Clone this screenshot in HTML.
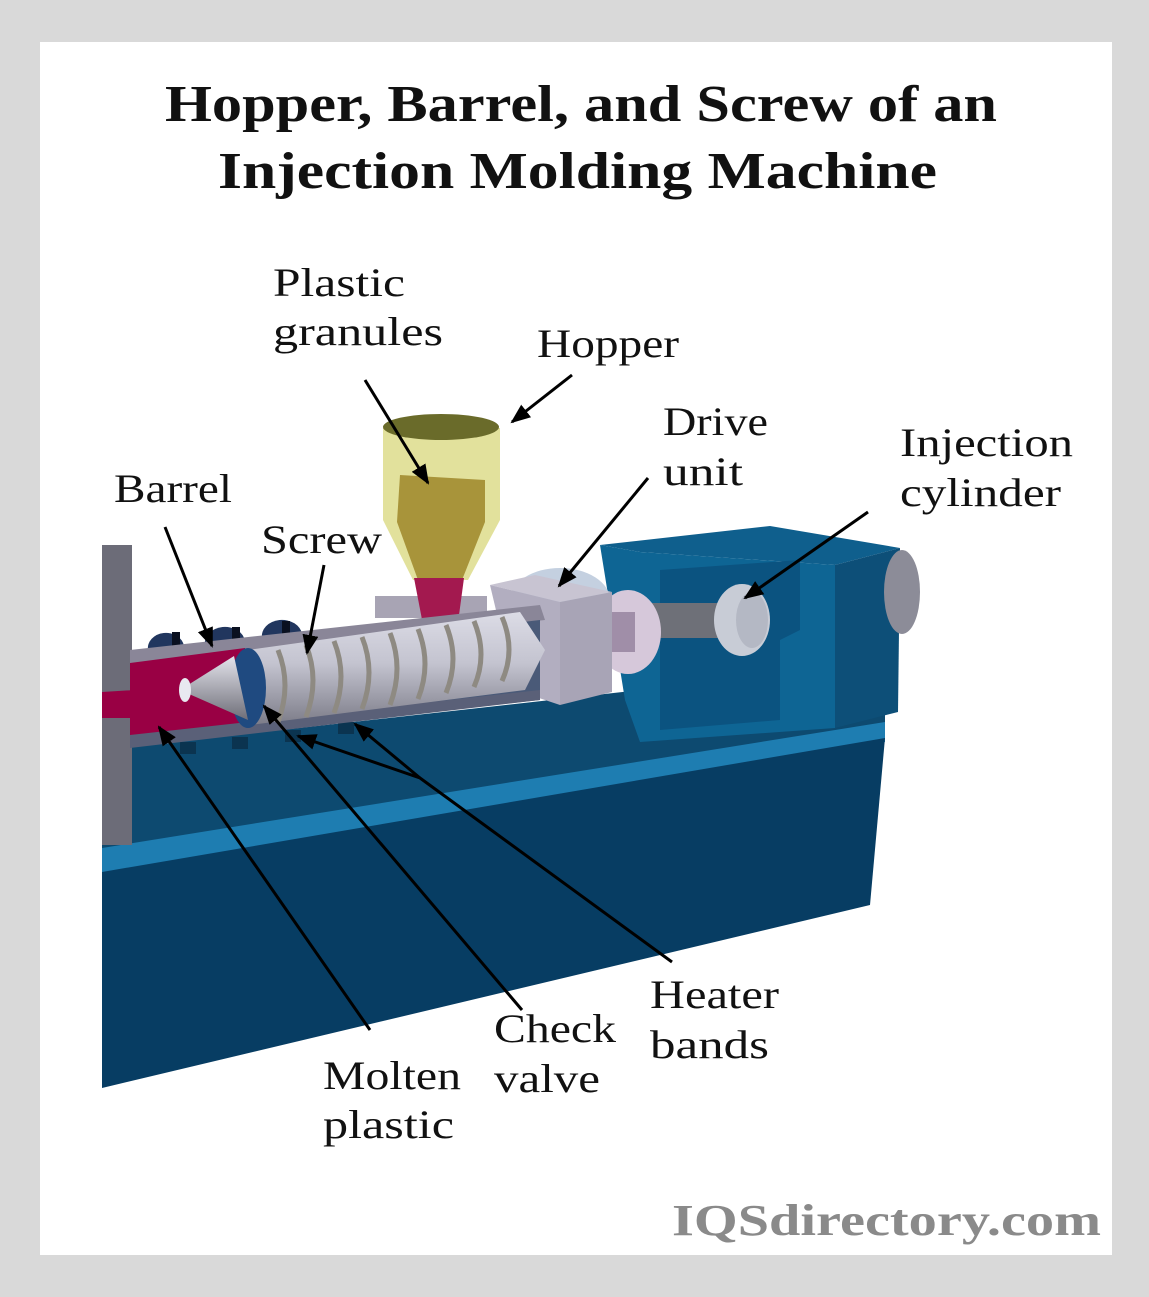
<!DOCTYPE html>
<html><head><meta charset="utf-8"><style>
html,body{margin:0;padding:0;width:1149px;height:1297px;background:#d9d9d9;overflow:hidden}
svg{display:block}
</style></head><body>
<svg width="1149" height="1297" viewBox="0 0 1149 1297" xmlns="http://www.w3.org/2000/svg">
<defs>
<marker id="ah" markerWidth="20" markerHeight="16" refX="18" refY="8" orient="auto" markerUnits="userSpaceOnUse" viewBox="0 0 20 16">
<path d="M0,0 L20,8 L0,16 z" fill="#000"/></marker>
<linearGradient id="scr" x1="0" y1="0" x2="0" y2="1">
<stop offset="0" stop-color="#dcdce6"/><stop offset="0.45" stop-color="#c4c4d0"/><stop offset="1" stop-color="#7c7c88"/></linearGradient>
<linearGradient id="cone" x1="0" y1="0" x2="0" y2="1">
<stop offset="0" stop-color="#e4e4ec"/><stop offset="1" stop-color="#6e6e78"/></linearGradient>
</defs>
<rect x="0" y="0" width="1149" height="1297" fill="#d9d9d9"/>
<rect x="40" y="42" width="1072" height="1213" fill="#ffffff"/>

<g font-family="'Liberation Serif',serif" font-weight="bold" font-size="52" fill="#111" lengthAdjust="spacingAndGlyphs">
<text x="165" y="121" textLength="832" lengthAdjust="spacingAndGlyphs">Hopper, Barrel, and Screw of an</text>
<text x="218" y="188" textLength="719" lengthAdjust="spacingAndGlyphs">Injection Molding Machine</text>
</g>

<polygon points="102,750 640,690 885,680 885,735 102,850" fill="#0d4a70"/>
<polygon points="102,848 885,722 885,742 102,875" fill="#1e7db1"/>
<polygon points="102,872 885,738 870,905 102,1088" fill="#073d63"/>

<polygon points="600,545 770,526 900,548 835,565 640,552" fill="#0f5f8d"/>
<polygon points="600,545 640,552 835,565 835,728 640,742 625,700" fill="#0e6594"/>
<polygon points="660,570 800,560 800,630 780,640 780,720 660,730" fill="#0b5380"/>
<polygon points="835,565 900,548 898,712 835,728" fill="#0d4f78"/>
<ellipse cx="902" cy="592" rx="18" ry="42" fill="#8c8c98"/>
<rect x="650" y="603" width="75" height="35" fill="#6e7078"/>
<ellipse cx="742" cy="620" rx="28" ry="36" fill="#c8ccd6"/>
<ellipse cx="752" cy="620" rx="16" ry="28" fill="#b4b8c4"/>

<ellipse cx="560" cy="600" rx="50" ry="32" fill="#c4d0e0"/>
<ellipse cx="628" cy="632" rx="33" ry="42" fill="#d6c8da"/>
<rect x="605" y="612" width="30" height="40" fill="#a08ea8"/>
<polygon points="490,585 535,575 612,592 560,602" fill="#c8c4d2"/>
<polygon points="490,585 560,602 560,705 515,690" fill="#b2aec0"/>
<polygon points="560,602 612,592 612,692 560,705" fill="#a8a4b6"/>

<rect x="102" y="545" width="30" height="300" fill="#6c6c78"/>

<g fill="#21365e">
<path d="M148,650 a18,15 0 0 1 36,-4 z"/><path d="M205,645 a20,16 0 0 1 40,-4 z"/>
<path d="M262,638 a20,16 0 0 1 40,-4 z"/>
</g>
<g fill="#0a1020"><rect x="172" y="632" width="8" height="14"/><rect x="232" y="627" width="8" height="14"/><rect x="282" y="621" width="8" height="14"/></g>
<g fill="#0b3450"><rect x="180" y="742" width="16" height="12"/><rect x="232" y="737" width="16" height="12"/><rect x="285" y="730" width="16" height="12"/><rect x="338" y="722" width="16" height="12"/></g>

<rect x="375" y="596" width="112" height="22" fill="#a8a4b4"/>
<polygon points="383,428 500,428 500,520 468,580 413,580 383,520" fill="#e2e19c"/>
<ellipse cx="441" cy="427" rx="58" ry="13" fill="#6a6b2a"/>
<polygon points="400,475 485,480 485,522 462,580 418,580 397,522" fill="#a8943a"/>
<polygon points="414,578 464,578 457,630 424,630" fill="#a3194f"/>

<polygon points="130,650 540,605 545,620 130,668" fill="#8a8698"/>
<polygon points="130,668 540,620 540,700 130,745" fill="#4a5a78"/>
<polygon points="130,663 245,648 245,733 130,742" fill="#990044"/>
<polygon points="102,692 135,690 135,718 102,718" fill="#990044"/>
<polygon points="130,735 540,690 540,700 130,748" fill="#5a6078"/>

<polygon points="248,650 520,612 545,650 525,690 250,725" fill="url(#scr)"/>
<g fill="none" stroke="#8e8a82" stroke-width="5">
<path d="M278,650 q14,35 0,72"/><path d="M306,645 q14,35 0,72"/><path d="M334,641 q14,35 0,72"/>
<path d="M362,637 q14,35 0,72"/><path d="M390,633 q14,35 0,72"/><path d="M418,629 q14,35 0,70"/>
<path d="M446,625 q14,34 0,68"/><path d="M474,621 q14,34 0,66"/><path d="M502,617 q14,33 0,64"/>
</g>
<ellipse cx="248" cy="688" rx="18" ry="40" fill="#1f4a80"/>
<polygon points="180,690 234,656 248,720" fill="url(#cone)"/>
<ellipse cx="185" cy="690" rx="6" ry="12" fill="#e8e8f0"/>

<g stroke="#000" stroke-width="3" fill="none" marker-end="url(#ah)">
<line x1="365" y1="380" x2="428" y2="483"/>
<line x1="572" y1="375" x2="512" y2="422"/>
<line x1="648" y1="478" x2="559" y2="586"/>
<line x1="868" y1="512" x2="745" y2="598"/>
<line x1="165" y1="527" x2="212" y2="646"/>
<line x1="324" y1="565" x2="307" y2="653"/>
<line x1="370" y1="1030" x2="159" y2="727"/>
<line x1="522" y1="1010" x2="264" y2="706"/>
<polyline points="672,962 420,778 298,736"/>
<line x1="420" y1="778" x2="355" y2="724"/>
</g>

<g font-family="'Liberation Serif',serif" font-size="40" fill="#111">
<text x="273" y="296" textLength="132" lengthAdjust="spacingAndGlyphs">Plastic</text>
<text x="273" y="345" textLength="170" lengthAdjust="spacingAndGlyphs">granules</text>
<text x="537" y="357" textLength="142" lengthAdjust="spacingAndGlyphs">Hopper</text>
<text x="663" y="435" textLength="105" lengthAdjust="spacingAndGlyphs">Drive</text>
<text x="663" y="485" textLength="80" lengthAdjust="spacingAndGlyphs">unit</text>
<text x="900" y="456" textLength="173" lengthAdjust="spacingAndGlyphs">Injection</text>
<text x="900" y="506" textLength="161" lengthAdjust="spacingAndGlyphs">cylinder</text>
<text x="114" y="502" textLength="118" lengthAdjust="spacingAndGlyphs">Barrel</text>
<text x="261" y="553" textLength="121" lengthAdjust="spacingAndGlyphs">Screw</text>
<text x="650" y="1008" textLength="129" lengthAdjust="spacingAndGlyphs">Heater</text>
<text x="650" y="1058" textLength="119" lengthAdjust="spacingAndGlyphs">bands</text>
<text x="494" y="1042" textLength="122" lengthAdjust="spacingAndGlyphs">Check</text>
<text x="494" y="1092" textLength="106" lengthAdjust="spacingAndGlyphs">valve</text>
<text x="323" y="1089" textLength="138" lengthAdjust="spacingAndGlyphs">Molten</text>
<text x="323" y="1138" textLength="131" lengthAdjust="spacingAndGlyphs">plastic</text>
</g>
<text x="672" y="1235" font-family="'Liberation Serif',serif" font-weight="bold" font-size="44" fill="#8a8a8a" textLength="429" lengthAdjust="spacingAndGlyphs">IQSdirectory.com</text>
</svg>
</body></html>
